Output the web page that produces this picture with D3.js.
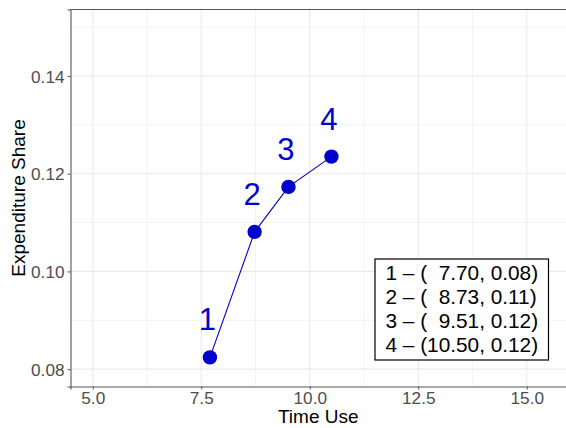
<!DOCTYPE html>
<html>
<head>
<meta charset="utf-8">
<script src="https://cdn.jsdelivr.net/npm/d3@7"></script>
<style>
  body { margin: 0; background: #fff; }
  svg { display: block; font-family: "Liberation Sans", Arial, sans-serif; }
</style>
</head>
<body>
<svg id="chart" width="566" height="428"></svg>
<script>
// data
const labels = ["1", "2", "3", "4"];
const timeUse = [7.70, 8.73, 9.51, 10.50];
const expShare = [0.0824, 0.1081, 0.1173, 0.1235];
const xTicks = [5.0, 7.5, 10.0, 12.5, 15.0];
const xMinor = [6.25, 8.75, 11.25, 13.75];
const yTicks = [0.08, 0.10, 0.12, 0.14];
const yMinor = [0.09, 0.11, 0.13, 0.15];
const legendLines = ["1 \u2013 (  7.70, 0.08)", "2 \u2013 (  8.73, 0.11)", "3 \u2013 (  9.51, 0.12)", "4 \u2013 (10.50, 0.12)"];

const svg = d3.select("#chart");
const margin = { top: 9.5, right: 0, bottom: 41.5, left: 70.5 };
const width = 566 - margin.left - margin.right;
const height = 428 - margin.top - margin.bottom;

const x = d3.scaleLinear().domain([4.487, 15.905]).range([0, width]);
const y = d3.scaleLinear().domain([0.07645, 0.1536]).range([height, 0]);

const g = svg.append("g").attr("transform", `translate(${margin.left},${margin.top})`);

// grid
g.selectAll(".xminor").data(xMinor).join("line")
  .attr("x1", d => x(d)).attr("x2", d => x(d)).attr("y1", 0).attr("y2", height)
  .attr("stroke", "#ebebeb").attr("stroke-width", 0.6);
g.selectAll(".yminor").data(yMinor).join("line")
  .attr("y1", d => y(d)).attr("y2", d => y(d)).attr("x1", 0).attr("x2", width)
  .attr("stroke", "#ebebeb").attr("stroke-width", 0.6);
g.selectAll(".xmajor").data(xTicks).join("line")
  .attr("x1", d => x(d)).attr("x2", d => x(d)).attr("y1", 0).attr("y2", height)
  .attr("stroke", "#ebebeb").attr("stroke-width", 1.1);
g.selectAll(".ymajor").data(yTicks).join("line")
  .attr("y1", d => y(d)).attr("y2", d => y(d)).attr("x1", 0).attr("x2", width)
  .attr("stroke", "#ebebeb").attr("stroke-width", 1.1);

// top border
g.append("line").attr("x1", 0).attr("x2", width).attr("y1", 0).attr("y2", 0)
  .attr("stroke", "#555").attr("stroke-width", 1.1);

// axes
const xAxis = g.append("g").attr("transform", `translate(0,${height})`)
  .call(d3.axisBottom(x).tickValues(xTicks).tickFormat(d3.format(".1f")).tickSize(3).tickPadding(2));
const yAxis = g.append("g")
  .call(d3.axisLeft(y).tickValues(yTicks).tickFormat(d3.format(".2f")).tickSize(3).tickPadding(3));
[xAxis, yAxis].forEach(a => {
  a.select(".domain").attr("stroke", "#555").attr("stroke-width", 1.1);
  a.selectAll(".tick line").attr("stroke", "#555");
  a.selectAll(".tick text").attr("fill", "#4d4d4d").style("font-size", "17.2px")
    .style("font-family", "Liberation Sans, Arial, sans-serif");
});
yAxis.selectAll(".tick text").attr("dy", "0.36em");

// line and points
const pts = timeUse.map((t, i) => ({ x: t, y: expShare[i], label: labels[i] }));
g.append("path").datum(pts)
  .attr("d", d3.line().x(d => x(d.x)).y(d => y(d.y)))
  .attr("fill", "none").attr("stroke", "#0000cd").attr("stroke-width", 1.1);
g.selectAll(".pt").data(pts).join("circle")
  .attr("cx", d => x(d.x)).attr("cy", d => y(d.y)).attr("r", 7.2)
  .attr("fill", "#0000cd");
g.selectAll(".lbl").data(pts).join("text")
  .attr("x", d => x(d.x) - 2.5).attr("y", d => y(d.y) - 27)
  .attr("text-anchor", "middle").attr("fill", "#0000cd")
  .style("font-size", "31px").text(d => d.label);

// legend box
const lg = svg.append("g").attr("transform", "translate(375,259)");
lg.append("rect").attr("width", 173.5).attr("height", 101)
  .attr("fill", "#fff").attr("stroke", "#000").attr("stroke-width", 1.2);
lg.selectAll("text").data(legendLines).join("text")
  .attr("x", 10.5).attr("y", (d, i) => 20.5 + i * 24.2)
  .attr("fill", "#000").style("font-size", "20.8px").style("white-space", "pre")
  .attr("xml:space", "preserve")
  .text(d => d);

// axis titles
svg.append("text").attr("x", margin.left + width / 2).attr("y", 423)
  .attr("text-anchor", "middle").style("font-size", "19px").attr("fill", "#000").text("Time Use");
svg.append("text").attr("transform", `translate(24.5,${margin.top + height / 2}) rotate(-90)`)
  .attr("text-anchor", "middle").style("font-size", "19px").attr("fill", "#000").text("Expenditure Share");
</script>
</body>
</html>
